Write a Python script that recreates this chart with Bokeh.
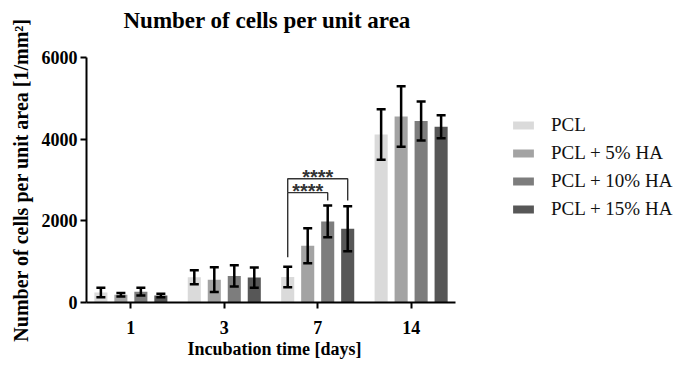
from bokeh.plotting import figure
from bokeh.models import (ColumnDataSource, Whisker, TeeHead, Legend, LegendItem,
                          FixedTicker, Range1d, Title)
from bokeh.embed import file_html
from bokeh.resources import INLINE
from bokeh.core.properties import value

days = ["1", "3", "7", "14"]
groups = ["PCL", "PCL + 5% HA", "PCL + 10% HA", "PCL + 15% HA"]
colors = ["#dadada", "#a3a3a3", "#7d7d7d", "#575757"]

mean_pcl = [245, 620, 625, 4115]
mean_ha5 = [190, 560, 1390, 4555]
mean_ha10 = [265, 650, 1985, 4445]
mean_ha15 = [170, 610, 1805, 4305]

sd_pcl = [115, 170, 250, 620]
sd_ha5 = [45, 305, 430, 740]
sd_ha10 = [95, 260, 390, 480]
sd_ha15 = [42, 250, 550, 280]

means = [mean_pcl, mean_ha5, mean_ha10, mean_ha15]
sds = [sd_pcl, sd_ha5, sd_ha10, sd_ha15]

# significance brackets at day 7
sig_day = "7"
sig_from = [0, 0]
sig_to = [2, 3]
sig_height = [2690, 3030]
sig_left_bottom = [1110, 2690]
sig_right_bottom = [2500, 2500]
sig_text = ["****", "****"]

group_step = 0.214
bar_width = 0.14

serif = "Liberation Serif"

# layout
W, H = 684, 367
left, top, bottom = 86, 57, 65
axis_px = 369                     # drawn length of the x axis
ax_start, ax_end = -0.475, 3.475  # x axis extent
frame_w = W - left
x_end = ax_start + (ax_end - ax_start) * frame_w / axis_px

p = figure(width=W, height=H, output_backend="svg", toolbar_location=None,
           x_range=Range1d(ax_start, x_end), y_range=Range1d(0, 6000),
           min_border_left=left, min_border_right=0, min_border_top=top, min_border_bottom=bottom)
p.outline_line_color = None
p.xgrid.visible = False
p.ygrid.visible = False

# spacer between frame and title (first 'above' item sits closest to the frame)
spacer = Title(text=" ", text_font_size="1px", standoff=22)
p.add_layout(spacer, "above")
main_title = Title(text="Number of cells per unit area", align="left", offset=37, standoff=0,
                   text_font=serif, text_font_size="23px", text_font_style="bold",
                   text_color="black")
p.add_layout(main_title, "above")

legend_items = []
for j, g in enumerate(groups):
    off = (j - 1.5) * group_step
    xs = [i + off for i in range(len(days))]
    src = ColumnDataSource(dict(x=xs, top=means[j],
                                upper=[m + s for m, s in zip(means[j], sds[j])],
                                lower=[m - s for m, s in zip(means[j], sds[j])]))
    r = p.vbar(x="x", top="top", width=bar_width, source=src, fill_color=colors[j], line_color=None)
    w = Whisker(source=src, base="x", upper="upper", lower="lower", level="overlay",
                line_color="black", line_width=2.5,
                upper_head=TeeHead(size=9, line_width=2.5, line_color="black"),
                lower_head=TeeHead(size=9, line_width=2.5, line_color="black"))
    p.add_layout(w)
    legend_items.append(LegendItem(label=g, renderers=[r]))

di = days.index(sig_day)
bx, by, tx, ty = [], [], [], []
for a, b, h, lb, rb, t in zip(sig_from, sig_to, sig_height, sig_left_bottom, sig_right_bottom, sig_text):
    x0 = di + (a - 1.5) * group_step
    x1 = di + (b - 1.5) * group_step
    bx.append([x0, x0, x1, x1])
    by.append([lb, h, h, rb])
    tx.append((x0 + x1) / 2)
    ty.append(h)
p.multi_line(xs=bx, ys=by, line_color="#333333", line_width=1.4)
p.text(x=tx, y=ty, text=sig_text, text_align="center", text_baseline="middle",
       text_font=value("Liberation Sans"), text_font_size="20px", text_font_style="bold",
       text_color="#333333", y_offset=-2)

legend = Legend(items=legend_items, location=(424, 82), glyph_width=26, glyph_height=10,
                label_height=20, spacing=6, padding=0, margin=0, border_line_color=None,
                background_fill_alpha=0, label_text_font=serif, label_text_font_size="19px",
                label_standoff=15, label_text_color="#111111")
p.add_layout(legend)

for ax in (p.xaxis[0], p.yaxis[0]):
    ax.axis_line_width = 2
    ax.axis_line_color = "black"
    ax.major_tick_line_width = 2
    ax.major_tick_line_color = "black"
    ax.major_tick_out = 6
    ax.major_tick_in = 0
    ax.minor_tick_line_color = None
    ax.major_label_text_font = serif
    ax.major_label_text_font_style = "bold"
    ax.major_label_text_font_size = "18px"
    ax.major_label_text_color = "black"
    ax.axis_label_text_font = serif
    ax.axis_label_text_font_style = "bold"
    ax.axis_label_text_color = "black"

p.xaxis.bounds = (ax_start, ax_end)
p.xaxis.ticker = FixedTicker(ticks=list(range(len(days))))
p.xaxis.major_label_overrides = {i: d for i, d in enumerate(days)}
p.xaxis.major_label_standoff = 12

xlabel = Title(text="Incubation time [days]", align="left", offset=101, standoff=0,
               text_font=serif, text_font_size="18px", text_font_style="bold", text_color="black")
p.add_layout(xlabel, "below")

p.yaxis.ticker = FixedTicker(ticks=[0, 2000, 4000, 6000])
p.yaxis.axis_label = "Number of cells per unit area [1/mm²]"
p.yaxis.axis_label_text_font_size = "20px"
p.yaxis.major_label_standoff = 3
p.yaxis.axis_label_standoff = 7

open("out.html", "w").write(file_html(p, INLINE))
